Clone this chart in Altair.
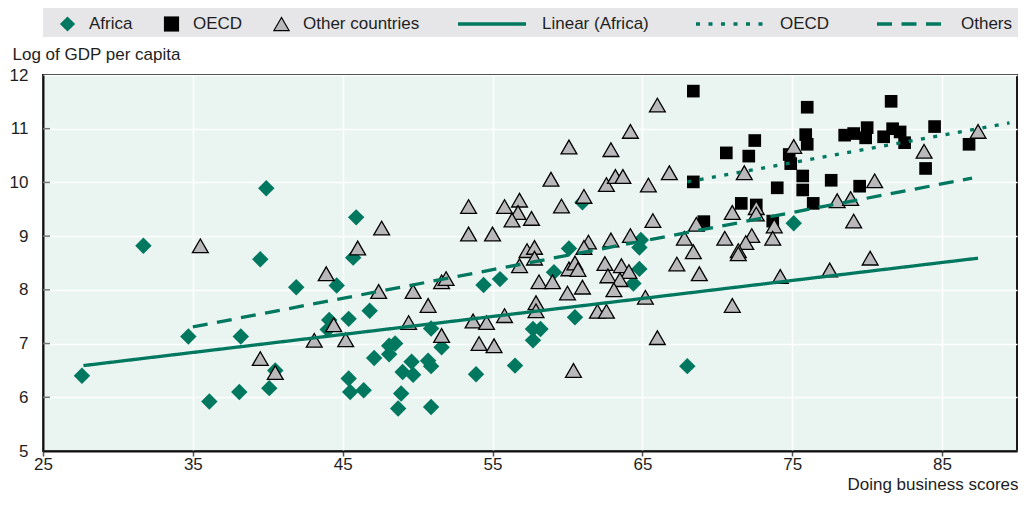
import altair as alt
import pandas as pd

# ---------------- data ----------------
africa_x = [27.6, 31.7, 34.7, 36.1, 38.1, 38.2, 39.5, 39.9, 40.1, 40.5, 41.9, 44.6, 44.1, 44.0,
            45.9, 45.7, 45.4, 46.8, 45.4, 45.5, 46.4, 47.1, 48.1, 48.5, 48.1, 49.0, 49.7, 49.6,
            48.9, 48.7, 50.7, 50.9, 50.9, 51.6, 50.9, 53.9, 54.4, 55.5, 59.1, 60.1, 61.0, 57.7,
            58.2, 57.7, 60.5, 56.5, 64.9, 64.8, 64.8, 64.4, 75.1, 68.0]
africa_y = [6.40, 8.82, 7.13, 5.92, 6.10, 7.13, 8.57, 9.89, 6.17, 6.50, 8.05, 8.08, 7.44, 7.26,
            9.35, 8.60, 7.46, 7.61, 6.35, 6.10, 6.13, 6.73, 6.96, 7.00, 6.80, 6.47, 6.42, 6.66,
            6.07, 5.79, 6.68, 6.58, 7.28, 6.93, 5.82, 6.43, 8.09, 8.20, 8.33, 8.77, 9.63, 7.27,
            7.27, 7.06, 7.49, 6.59, 8.93, 8.79, 8.39, 8.12, 9.24, 6.58]

oecd_x = [68.4, 76.0, 81.6, 84.5, 72.5, 70.6, 72.1, 75.9, 76.0, 74.8, 74.9, 78.5, 79.1, 80.0,
          79.9, 81.1, 81.7, 82.2, 82.5, 86.8, 83.9, 68.4, 74.0, 75.7, 75.7, 77.6, 79.5, 71.6,
          72.6, 69.1, 73.7, 76.4]
oecd_y = [11.70, 11.40, 11.51, 11.04, 10.78, 10.55, 10.49, 10.89, 10.71, 10.52, 10.35, 10.88,
          10.91, 11.02, 10.83, 10.85, 11.00, 10.94, 10.74, 10.71, 10.26, 10.01, 9.90, 10.12,
          9.86, 10.04, 9.93, 9.61, 9.58, 9.27, 9.28, 9.61]

other_x = [35.5, 43.9, 44.4, 43.1, 45.2, 39.5, 40.5, 53.4, 47.6, 53.4,
           55.0, 46.0, 47.4, 49.7, 51.6, 51.9, 50.7, 49.4, 51.6, 53.7,
           54.6, 54.1, 55.1, 60.1, 62.9, 64.2, 58.9, 62.6, 63.2, 63.7,
           65.4, 66.0, 55.8, 56.8, 56.7, 56.3, 57.6, 59.6, 61.1, 65.7,
           57.3, 57.8, 57.8, 56.8, 61.4, 61.1, 62.9, 64.2, 60.1, 60.5,
           60.7, 62.5, 63.6, 64.1, 62.7, 63.5, 63.1, 58.1, 59.0, 60.0,
           61.0, 65.2, 57.9, 57.9, 55.8, 62.0, 62.6, 60.4, 66.0, 66.8,
           71.8, 75.1, 68.6, 71.0, 72.6, 72.6, 73.8, 67.8, 70.5, 72.3,
           71.9, 73.7, 71.4, 71.4, 68.4, 67.3, 68.8, 74.2, 71.0, 83.8,
           87.4, 80.5, 78.0, 78.9, 79.1, 77.5, 80.2]
other_y = [8.82, 8.30, 7.35, 7.06, 7.07, 6.72, 6.46, 9.55, 9.15, 9.04,
           9.04, 8.78, 7.97, 7.97, 8.15, 8.21, 7.71, 7.39, 7.15, 7.42,
           7.39, 7.00, 6.96, 10.66, 10.61, 10.95, 10.06, 9.96, 10.11, 10.11,
           9.95, 11.44, 9.55, 9.67, 9.44, 9.30, 9.33, 9.56, 9.74, 9.29,
           8.73, 8.79, 8.59, 8.45, 8.89, 8.79, 8.93, 9.01, 8.39, 8.50,
           8.38, 8.49, 8.45, 8.34, 8.26, 8.19, 8.00, 8.15, 8.15, 7.94,
           8.05, 7.86, 7.76, 7.61, 7.52, 7.60, 7.60, 6.50, 7.11, 10.18,
           10.18, 10.67, 9.22, 9.44, 9.53, 9.41, 9.19, 8.96, 8.96, 9.01,
           8.88, 8.96, 8.73, 8.67, 8.71, 8.48, 8.30, 8.25, 7.71, 10.58,
           10.95, 10.03, 9.66, 9.70, 9.28, 8.37, 8.59]

trend_series = ["Linear (Africa)", "OECD trend", "Others"]
trend_x0 = [27.7, 68.0, 35.0]
trend_x1 = [87.4, 89.5, 87.0]
trend_y0 = [6.59, 10.01, 7.31]
trend_y1 = [8.59, 11.11, 10.08]

x_ticks = [25, 35, 45, 55, 65, 75, 85]
y_ticks = [5, 6, 7, 8, 9, 10, 11, 12]
y_inner_ticks = [6, 7, 8, 9, 10, 11]

point_series = ["Africa", "OECD", "Other countries"]

# ---------------- styling ----------------
GREEN = "#00785f"
GREY = "#b9b9bb"
TEXT = "#1e1e1e"
FONT = "Liberation Sans, Arial, sans-serif"
FS = 17
W, H = 974, 376

africa = pd.DataFrame({"score": africa_x, "gdp": africa_y, "series": "Africa"})
oecd = pd.DataFrame({"score": oecd_x, "gdp": oecd_y, "series": "OECD"})
other = pd.DataFrame({"score": other_x, "gdp": other_y, "series": "Other countries"})
trend = pd.DataFrame({"score": trend_x0 + trend_x1,
                      "gdp": trend_y0 + trend_y1,
                      "series": trend_series * 2})
inner = pd.DataFrame({"gdp": y_inner_ticks})

X = alt.X("score:Q",
          scale=alt.Scale(domain=[25, 90], nice=False, zero=False),
          axis=alt.Axis(values=x_ticks, title="Doing business scores", grid=True,
                        gridColor="white", gridWidth=1.5, domain=True, domainColor="#111",
                        domainWidth=2, ticks=True, tickSize=5, tickColor="#555", tickWidth=1.5,
                        labelFontSize=FS, labelFont=FONT, labelColor=TEXT, labelPadding=0,
                        labelFlush=False, labelOverlap=False,
                        titleFont=FONT, titleFontSize=FS, titleFontWeight="normal",
                        titleColor=TEXT, titleAnchor="end", titleAlign="right",
                        titleX=W + 1, titleY=38, titleBaseline="alphabetic"))
Y = alt.Y("gdp:Q",
          scale=alt.Scale(domain=[5, 12], nice=False, zero=False),
          axis=alt.Axis(values=y_ticks, title="Log of GDP per capita", grid=True,
                        gridColor="white", gridWidth=1.5, domain=True, domainColor="#111",
                        domainWidth=2, ticks=False, labelPadding=15,
                        labelFontSize=FS, labelFont=FONT, labelColor=TEXT,
                        labelFlush=False, labelOverlap=False,
                        titleFont=FONT, titleFontSize=FS, titleFontWeight="normal",
                        titleColor=TEXT, titleAngle=0, titleAlign="left",
                        titleX=-31, titleY=-16, titleBaseline="alphabetic"))

point_legend = alt.Legend(
    orient="none", legendX=16, legendY=-61, direction="horizontal", title=None,
    padding=0, columnPadding=30, clipHeight=20, labelFont=FONT, labelFontSize=FS,
    labelColor=TEXT, labelOffset=13, symbolSize=230, symbolStrokeWidth=1.2,
    symbolOpacity=1)

line_legend = alt.Legend(
    orient="none", legendX=413, legendY=-61, direction="horizontal", title=None,
    padding=0, columnPadding=45, clipHeight=20, labelFont=FONT, labelFontSize=FS,
    labelColor=TEXT, labelOffset=14, symbolType="stroke", symbolSize=4624,
    symbolStrokeWidth=3.3, symbolStrokeColor=GREEN, symbolOpacity=1,
    labelExpr="datum.label == 'OECD trend' ? 'OECD' : datum.label")

shape_enc = alt.Shape("series:N",
                      scale=alt.Scale(domain=point_series,
                                      range=["diamond", "square", "triangle-up"]),
                      legend=point_legend)
fill_enc = alt.Fill("series:N",
                    scale=alt.Scale(domain=point_series, range=[GREEN, "#000000", GREY]),
                    legend=point_legend)
stroke_enc = alt.Stroke("series:N",
                        scale=alt.Scale(domain=point_series,
                                        range=["transparent", "transparent", "#000000"]),
                        legend=point_legend)

band = alt.Chart(alt.Data(values=[{"k": 1}])).mark_rect(color="#e6e6e8").encode(
    x=alt.value(0), x2=alt.value(W + 10), y=alt.value(-68), y2=alt.value(-38))

yticks = alt.Chart(inner).mark_rule(color="#777", strokeWidth=1.5).encode(
    x=alt.value(0), x2=alt.value(7), y=Y)

africa_layer = alt.Chart(africa).mark_point(
    size=270, filled=True, opacity=1, strokeWidth=0).encode(
    x=X, y=Y, shape=shape_enc, fill=fill_enc, stroke=stroke_enc)

oecd_layer = alt.Chart(oecd).mark_point(
    size=160, filled=True, opacity=1, strokeWidth=0).encode(
    x=X, y=Y, shape=shape_enc, fill=fill_enc, stroke=stroke_enc)

other_layer = alt.Chart(other).mark_point(
    size=250, filled=True, opacity=1, strokeWidth=1.3).encode(
    x=X, y=Y, shape=shape_enc, fill=fill_enc, stroke=stroke_enc)

trend_layer = alt.Chart(trend).mark_line(color=GREEN, strokeWidth=3.3).encode(
    x=X, y=Y,
    strokeDash=alt.StrokeDash("series:N",
                              scale=alt.Scale(domain=trend_series,
                                              range=[[1, 0], [4, 8.5], [15, 9.5]]),
                              legend=line_legend))

chart = alt.layer(band, yticks, africa_layer, oecd_layer, other_layer, trend_layer).properties(
    width=W, height=H,
    padding={"left": 35, "top": 67, "right": 1, "bottom": 42},
    autosize=alt.AutoSizeParams(type="none"),
).configure(
    font=FONT,
    view=alt.ViewConfig(fill="#eaf4f1", stroke="#1a1a1a", strokeWidth=2),
)

chart.save("out.html", embed_options={"renderer": "svg", "actions": False})
